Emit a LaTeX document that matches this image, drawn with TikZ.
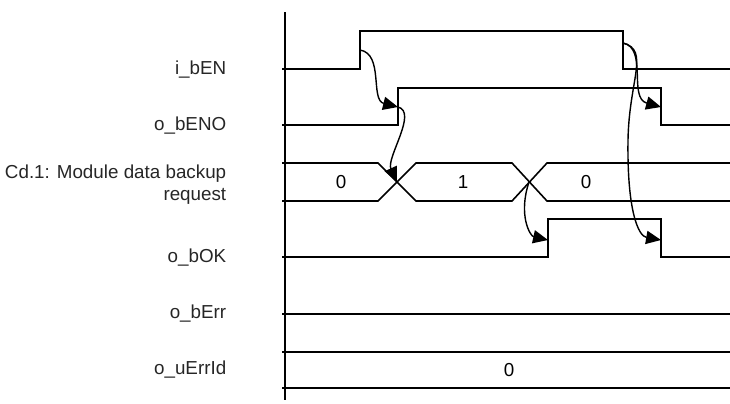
\documentclass[tikz,border=0pt]{standalone}
\usepackage{fontspec}
\setmainfont{Liberation Sans}
\usetikzlibrary{arrows.meta}
\tikzset{
  every picture/.style={line width=0.9pt},
  sig/.style={draw=black, line join=miter},
  lbl/.style={anchor=east, align=right, font=\fontsize{10.7}{12.6}\selectfont, text=black!85, inner sep=0pt},
  val/.style={font=\fontsize{10.7}{12.6}\selectfont, inner sep=0pt},
  cause/.style={-{Triangle[length=8.5pt, width=7.5pt]}, line width=0.8pt},
}
\begin{document}
\begin{tikzpicture}[x=0.02cm, y=-0.02cm]
  \useasboundingbox (0,0) rectangle (730,403);
  \draw[sig] (285,12) -- (285,400);
  \node[lbl] (en) at (227,70) {i\_bEN};
  \node[lbl] (eno) at (227,126) {o\_bENO};
  \node[lbl] (cd) at (227,185) {Cd.1: Module data backup\\request};
  \node[lbl] (ok) at (227,258) {o\_bOK};
  \node[lbl] (err) at (227,314) {o\_bErr};
  \node[lbl] (errid) at (227,370) {o\_uErrId};
  \draw[sig] (282,69) -- (360,69) -- (360,31) -- (623,31) -- (623,69) -- (730,69);
  \draw[sig] (282,125) -- (398,125) -- (398,88) -- (661,88) -- (661,125) -- (730,125);
  \draw[sig] (282,163) -- (378,163) -- (416,201) -- (512,201) -- (547,163) -- (730,163);
  \draw[sig] (282,201) -- (378,201) -- (416,163) -- (512,163) -- (547,201) -- (730,201);
  \node[val] (cd0) at (341,182) {0};
  \node[val] (cd1) at (463,182) {1};
  \node[val] (cd2) at (586,182) {0};
  \draw[sig] (282,257) -- (548,257) -- (548,219) -- (661,219) -- (661,257) -- (730,257);
  \draw[sig] (282,314) -- (730,314);
  \draw[sig] (282,352) -- (730,352);
  \draw[sig] (282,388) -- (730,388);
  \node[val] (errid0) at (509,370) {0};
  \coordinate (enRise) at (360,50);
  \coordinate (enFall) at (623,43);
  \coordinate (enoRise) at (398,107);
  \coordinate (enoFall) at (661,107);
  \coordinate (cdX1) at (397,182);
  \coordinate (cdX2) at (529,182);
  \coordinate (okRise) at (548,240);
  \coordinate (okFall) at (661,240);
  \draw[cause] (enRise) .. controls (384,54) and (370,100) .. (enoRise);
  \draw[cause] (enoRise) .. controls (418,112) and (386,158) .. (cdX1);
  \draw[cause] (enFall) .. controls (648,48) and (628,98) .. (enoFall);
  \draw[cause] (enFall) .. controls (650,50) and (629,80) .. (628,140) .. controls (627,210) and (638,236) .. (okFall);
  \draw[cause] (cdX2) .. controls (518,215) and (530,236) .. (okRise);
\end{tikzpicture}
\end{document}
